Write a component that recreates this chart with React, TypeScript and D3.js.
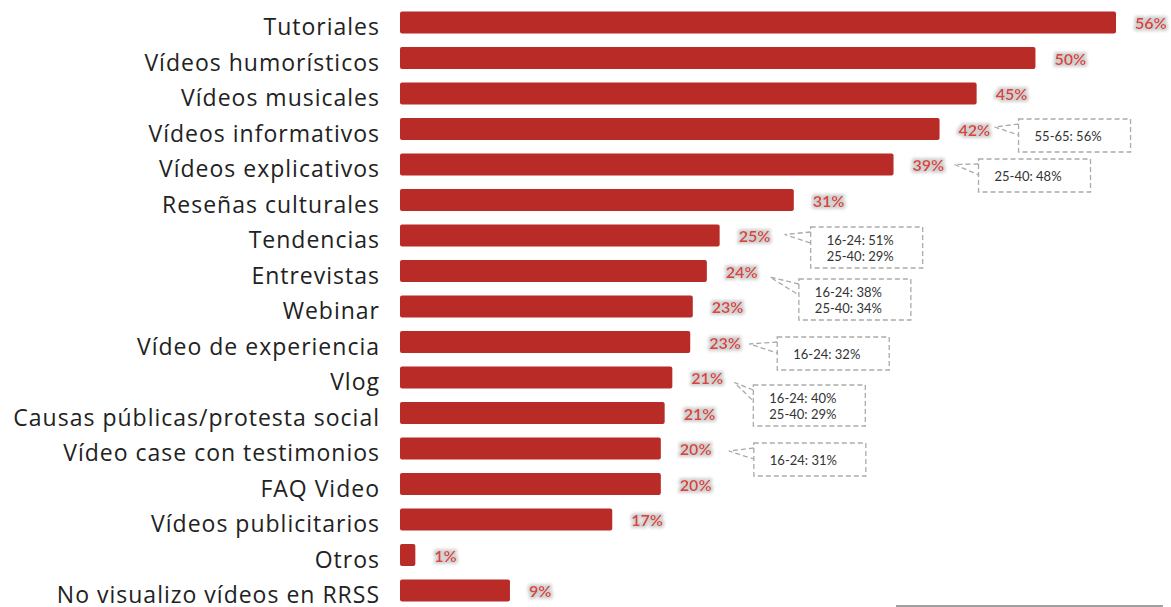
import React from "react";
import * as d3 from "d3";

const categories = [
  "Tutoriales",
  "Vídeos humorísticos",
  "Vídeos musicales",
  "Vídeos informativos",
  "Vídeos explicativos",
  "Reseñas culturales",
  "Tendencias",
  "Entrevistas",
  "Webinar",
  "Vídeo de experiencia",
  "Vlog",
  "Causas públicas/protesta social",
  "Vídeo case con testimonios",
  "FAQ Video",
  "Vídeos publicitarios",
  "Otros",
  "No visualizo vídeos en RRSS",
];

const values = [56.0, 49.7, 45.1, 42.2, 38.6, 30.8, 25.0, 24.0, 22.9, 22.7, 21.3, 20.7, 20.4, 20.4, 16.6, 1.2, 8.6];

const calloutCategories = [
  "Vídeos informativos",
  "Vídeos explicativos",
  "Tendencias",
  "Entrevistas",
  "Vídeo de experiencia",
  "Vlog",
  "Vídeo case con testimonios",
];

const calloutTexts = [
  ["55-65: 56%"],
  ["25-40: 48%"],
  ["16-24: 51%", "25-40: 29%"],
  ["16-24: 38%", "25-40: 34%"],
  ["16-24: 32%"],
  ["16-24: 40%", "25-40: 29%"],
  ["16-24: 31%"],
];

// layout offsets for callouts (relative to bar end / row centre)
const calloutLayout = [
  { boxDx: 79, boxDy: -10, tipDx: 55, tipDy: -2 },
  { boxDx: 85, boxDy: -5.5, tipDx: 61, tipDy: 0 },
  { boxDx: 91, boxDy: -8.5, tipDx: 65, tipDy: -1 },
  { boxDx: 92, boxDy: 8, tipDx: 63, tipDy: 6 },
  { boxDx: 87, boxDy: -5, tipDx: 59, tipDy: 2 },
  { boxDx: 81, boxDy: 7.5, tipDx: 62, tipDy: 5 },
  { boxDx: 93, boxDy: -5.5, tipDx: 68, tipDy: 2.5 },
];

const W = 1171;
const H = 607;

export default function App() {
  const x = d3.scaleLinear().domain([0, 56]).range([400, 1116]);
  const step = 35.5;
  const y = d3
    .scaleBand<string>()
    .domain(categories)
    .range([22.5 - step / 2, 22.5 - step / 2 + step * categories.length])
    .paddingInner(0.38)
    .paddingOuter(0.19);
  const bw = y.bandwidth();
  const fmt = (v: number) => `${Math.round(v)}%`;
  const font = "'Open Sans', Lato, sans-serif";
  const vfont = "Lato, 'Open Sans', sans-serif";

  return (
    <svg
      width={W}
      height={H}
      style={{ position: "absolute", left: 0, top: 0, background: "#fff" }}
    >
      <defs>
        <filter id="glow" x="-30%" y="-60%" width="160%" height="220%">
          <feMorphology in="SourceAlpha" operator="dilate" radius="1.6" result="d" />
          <feGaussianBlur in="d" stdDeviation="1.4" result="b" />
          <feFlood floodColor="#d0d0d0" />
          <feComposite in2="b" operator="in" result="g" />
          <feMerge>
            <feMergeNode in="g" />
            <feMergeNode in="SourceGraphic" />
          </feMerge>
        </filter>
      </defs>

      {categories.map((c, i) => {
        const yc = (y(c) as number) + bw / 2;
        const v = values[i];
        return (
          <g key={c}>
            <text
              x={380}
              y={yc + 12.5}
              textAnchor="end"
              fontFamily={font}
              fontSize={23}
              letterSpacing={1}
              fill="#222"
            >
              {c}
            </text>
            <rect
              x={x(0)}
              y={y(c)}
              width={x(v) - x(0)}
              height={bw}
              rx={2}
              fill="#b92b27"
            />
            <text
              x={x(v) + 19}
              y={yc}
              dominantBaseline="central"
              fontFamily={vfont}
              fontWeight={700}
              fontSize={16}
              fill="#d8443e"
              filter="url(#glow)"
            >
              {fmt(v)}
            </text>
          </g>
        );
      })}

      {calloutCategories.map((c, k) => {
        const i = categories.indexOf(c);
        const yc = (y(c) as number) + bw / 2;
        const xe = x(values[i]);
        const L = calloutLayout[k];
        const lines = calloutTexts[k];
        const bh = lines.length === 1 ? 33 : 41;
        const bx = xe + L.boxDx;
        const by = yc + L.boxDy;
        const tx = xe + L.tipDx;
        const ty = yc + L.tipDy;
        const wedge = `M${bx},${by + 5} L${tx},${ty} L${bx},${by + 16}`;
        return (
          <g key={c}>
            <rect
              x={bx}
              y={by}
              width={112}
              height={bh}
              fill="none"
              stroke="#aaa"
              strokeWidth={1.3}
              strokeDasharray="5 3"
            />
            <path
              d={wedge}
              fill="none"
              stroke="#aaa"
              strokeWidth={1.3}
              strokeDasharray="5 3"
            />
            {lines.map((t, j) => (
              <text
                key={t}
                x={bx + 16}
                y={
                  lines.length === 1
                    ? by + bh / 2
                    : by + 13 + j * 15.5
                }
                dominantBaseline="central"
                fontFamily={vfont}
                fontSize={13}
                fill="#333"
              >
                {t}
              </text>
            ))}
          </g>
        );
      })}

      <line x1={896} x2={1163} y1={606} y2={606} stroke="#a0a0a0" strokeWidth={2} />
    </svg>
  );
}
